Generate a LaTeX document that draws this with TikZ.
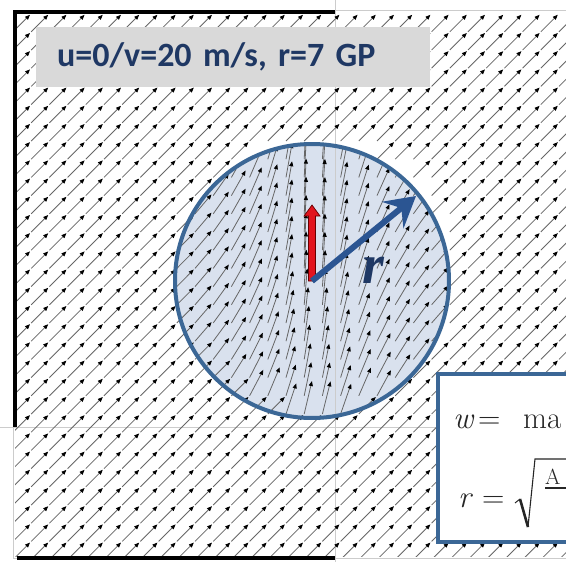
\documentclass[tikz,border=0pt]{standalone}
\usepackage{fontspec}
\newfontfamily\calfont{Carlito}
\newfontfamily\timesfont{Liberation Serif}
\usepackage{tikz}
\usetikzlibrary{arrows.meta, positioning}
\definecolor{navy}{HTML}{1F3864}
\definecolor{rimblue}{HTML}{3B6796}
\definecolor{diskbg}{HTML}{D9E1EE}
\definecolor{tagbg}{HTML}{D9D9D9}
\definecolor{gridgray}{HTML}{CCCCCC}
\definecolor{vecblue}{HTML}{2B5592}
\definecolor{crimson}{HTML}{E2141E}

\begin{document}
\begin{tikzpicture}[x=1pt, y=-1pt,
    vec/.style={line width=0.8pt, black!60, -{Triangle[length=5pt, width=4pt, color=black]}},
    gridln/.style={gridgray, line width=0.8pt},
    frame/.style={black, line width=4pt, line join=miter},
    tag/.style={fill=tagbg, anchor=north west, minimum width=394pt, minimum height=60pt,
                text width=352pt, inner xsep=21pt, align=left, text=navy,
                font=\calfont\bfseries\fontsize{34}{36}\selectfont},
    eqbox/.style={draw=rimblue, line width=3.5pt, fill=white, anchor=north west,
                  minimum width=200pt, minimum height=168pt},
    eq/.style={anchor=base west, inner sep=0pt, text=black!85, font=\fontsize{31}{36}\selectfont},
    eqsmall/.style={eq, font=\fontsize{22}{26}\selectfont},
    rootln/.style={black!85, line join=miter, line cap=butt},
    rvec/.style={vecblue, line width=6pt, -{Stealth[length=30pt, width=34pt, inset=11pt]}},
    rlab/.style={text=navy, font=\timesfont\bfseries\itshape\fontsize{56}{60}\selectfont}
  ]
    \useasboundingbox (0,0) rectangle (566,562);
    \clip (0,0) rectangle (566,562);
    \fill[white] (0,0) rectangle (566,562);
    \coordinate (ctr) at (312,281);
    \fill[diskbg] (ctr) circle (137);
    % panel lines
    \draw[gridln] (335,0) -- (335,562);
    \draw[gridln] (0,427) -- (566,427);
    \draw[gridln] (13,10) rectangle (570,558);
    % wind field
    \begin{scope}
      \clip (15,14) rectangle (566,556);
      \foreach \i in {-1,...,30}{
        \foreach \j in {-1,...,28}{
          \pgfmathsetmacro\tx{13+18.2*\i}
          \pgfmathsetmacro\ty{50+18.2*\j}
          \pgfmathsetmacro\ddx{(\tx-312)/137}
          \pgfmathsetmacro\ddy{(\ty-281)/137}
          \pgfmathtruncatemacro\ins{(\ddx*\ddx+\ddy*\ddy<1)}
          \ifnum\ins=1
            \pgfmathsetmacro\ww{max(0.001,1-abs(\ddx))^1.2*(1-0.25*max(0,\ddy))}
            \pgfmathsetmacro\aa{45+45*\ww}
            \pgfmathsetmacro\ll{24+14*\ww}
            \begin{scope}
              \clip (ctr) circle (137);
              \draw[vec] (\tx,\ty) -- ++({\ll*cos(\aa)},{-\ll*sin(\aa)});
            \end{scope}
          \else
            \draw[vec] (\tx,\ty) -- ++(17,-17);
          \fi
        }
      }
    \end{scope}
    \draw[rimblue, line width=4pt] (ctr) circle (137);
    % storm motion and radius
    \filldraw[fill=crimson, draw=black!60!red, line width=0.7pt]
      ([xshift=-3.5pt]ctr) -- ++(0,-65) -- ++(-4.5,0) -- ++(8,-11) -- ++(8,11)
      -- ++(-4.5,0) -- ++(0,65) -- cycle;
    \coordinate (btip) at (416,196);
    \draw[rvec] (ctr) -- (btip);
    \node[rlab] (rname) at (373,270) {r};
    % labels
    \node[tag] (title) at (36,27) {u=0/v=20 m/s, r=7 GP};
    \node[eqbox] (box) at (436,372) {};
    \node[eq] (wsym) at (453,428) {\itshape w};
    \node[eq] (weq) at (478,428) {=};
    \node[eq] (wmax) at (523,428) {ma};
    \node[eq] (rsym) at (458,507) {\itshape r};
    \node[eq] (req) at (482,507) {=};
    \node[eqsmall] (anum) at (545,484) {A};
    % radical sign and fraction bar
    \coordinate (rt1) at (515,503);
    \coordinate (rt2) at (520,499);
    \coordinate (rt3) at (528,527);
    \coordinate (rt4) at (535,459);
    \coordinate (rt5) at (570,459);
    \draw[rootln, line width=1pt] (rt1) -- (rt2);
    \draw[rootln, line width=2.6pt] (rt2) -- (rt3);
    \draw[rootln, line width=1.1pt] (rt3) -- (rt4) -- (rt5);
    \draw[rootln, line width=1.1pt] ([yshift=-4pt]anum.base west) -- ++(30,0);
    \draw[frame] (15,427) -- (15,12) -- (335,12);
    \draw[frame] (17,558) -- (335,558);
  \end{tikzpicture}
\end{document}
